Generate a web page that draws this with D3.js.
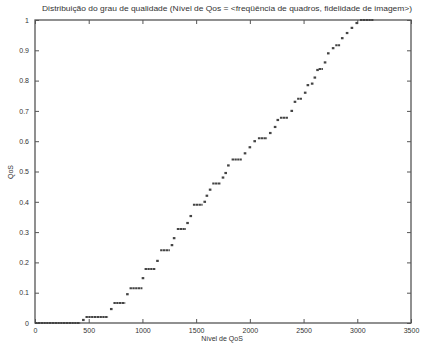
<!DOCTYPE html>
<html>
<head>
<meta charset="utf-8">
<script src="https://cdn.jsdelivr.net/npm/d3@7"></script>
<style>
  body { margin: 0; background: #fff; }
  text { font-family: "Liberation Sans", Arial, sans-serif; fill: #333; }
</style>
</head>
<body>
<svg id="chart" width="423" height="345"></svg>
<script>
// flat steps of the distribution: [start, end, QoS]
var steps = [
  [0, 420, 0], [470, 680, 0.02], [730, 840, 0.066], [880, 1000, 0.115],
  [1020, 1120, 0.178], [1165, 1255, 0.24], [1320, 1405, 0.31], [1470, 1560, 0.39],
  [1650, 1730, 0.46], [1830, 1925, 0.54], [2075, 2160, 0.61], [2280, 2355, 0.677],
  [2440, 2485, 0.74], [2640, 2680, 0.838], [2795, 2840, 0.917], [3025, 3150, 1.0]
];
// isolated points between steps: [nivel, QoS]
var dots = [
  [450, 0.01], [710, 0.046], [860, 0.095], [1005, 0.148], [1140, 0.205],
  [1275, 0.257], [1295, 0.28], [1420, 0.33], [1450, 0.353],
  [1580, 0.40], [1600, 0.42], [1630, 0.44],
  [1750, 0.48], [1775, 0.495], [1800, 0.52],
  [1955, 0.56], [2000, 0.58], [2045, 0.60],
  [2190, 0.627], [2235, 0.647], [2260, 0.67],
  [2390, 0.70], [2420, 0.73],
  [2515, 0.76], [2540, 0.785], [2580, 0.79], [2605, 0.81], [2630, 0.835],
  [2700, 0.86], [2730, 0.89], [2775, 0.907],
  [2860, 0.94], [2905, 0.957], [2950, 0.974], [2995, 0.99]
];
var xTicks = [0, 500, 1000, 1500, 2000, 2500, 3000, 3500];
var yTicks = [0, 0.1, 0.2, 0.3, 0.4, 0.5, 0.6, 0.7, 0.8, 0.9, 1];

var svg = d3.select("#chart");
var pLeft = 35, pRight = 411, pTop = 20, pBottom = 323;
var x = d3.scaleLinear().domain([0, 3500]).range([pLeft, pRight]);
var y = d3.scaleLinear().domain([0, 1]).range([pBottom, pTop]);

// frame
svg.append("rect")
  .attr("x", pLeft).attr("y", pTop)
  .attr("width", pRight - pLeft).attr("height", pBottom - pTop)
  .attr("fill", "none").attr("stroke", "#555").attr("stroke-width", 1.3);

// axes, ticks pointing inward
function styleAxis(g) {
  g.select(".domain").remove();
  g.selectAll(".tick line").attr("stroke", "#555");
  g.selectAll(".tick text").attr("font-size", 7).attr("fill", "#333");
}
svg.append("g").attr("transform", "translate(0," + pBottom + ")")
  .call(d3.axisBottom(x).tickValues(xTicks).tickSize(-4).tickPadding(5).tickFormat(d3.format("d")))
  .call(styleAxis);
svg.append("g").attr("transform", "translate(0," + pTop + ")")
  .call(d3.axisTop(x).tickValues(xTicks).tickSize(-4).tickFormat(""))
  .call(styleAxis);
svg.append("g").attr("transform", "translate(" + pLeft + ",0)")
  .call(d3.axisLeft(y).tickValues(yTicks).tickSize(-4).tickPadding(6).tickFormat(String))
  .call(styleAxis);
svg.append("g").attr("transform", "translate(" + pRight + ",0)")
  .call(d3.axisRight(y).tickValues(yTicks).tickSize(-4).tickFormat(""))
  .call(styleAxis);

// data
svg.selectAll(".step").data(steps).enter().append("line")
  .attr("class", "step")
  .attr("x1", function(d){ return x(d[0]); })
  .attr("x2", function(d){ return x(d[1]); })
  .attr("y1", function(d){ return y(d[2]); })
  .attr("y2", function(d){ return y(d[2]); })
  .attr("stroke", "#444").attr("stroke-width", 2)
  .attr("stroke-dasharray", "2.4,0.4");
svg.selectAll(".dot").data(dots).enter().append("rect")
  .attr("class", "dot")
  .attr("x", function(d){ return x(d[0]) - 1.3; })
  .attr("y", function(d){ return y(d[1]) - 1.1; })
  .attr("width", 2.6).attr("height", 2.2)
  .attr("fill", "#444");

// labels
svg.append("text").attr("x", 227).attr("y", 11).attr("text-anchor", "middle")
  .attr("font-size", 7.2).attr("textLength", 370).attr("lengthAdjust", "spacingAndGlyphs")
  .text("Distribuição do grau de qualidade (Nível de Qos = <freqüência de quadros, fidelidade de imagem>)");
svg.append("text").attr("x", 222).attr("y", 341).attr("text-anchor", "middle")
  .attr("font-size", 7).text("Nível de QoS");
svg.append("text").attr("transform", "translate(13,172) rotate(-90)")
  .attr("text-anchor", "middle").attr("font-size", 7).text("QoS");
</script>
</body>
</html>
